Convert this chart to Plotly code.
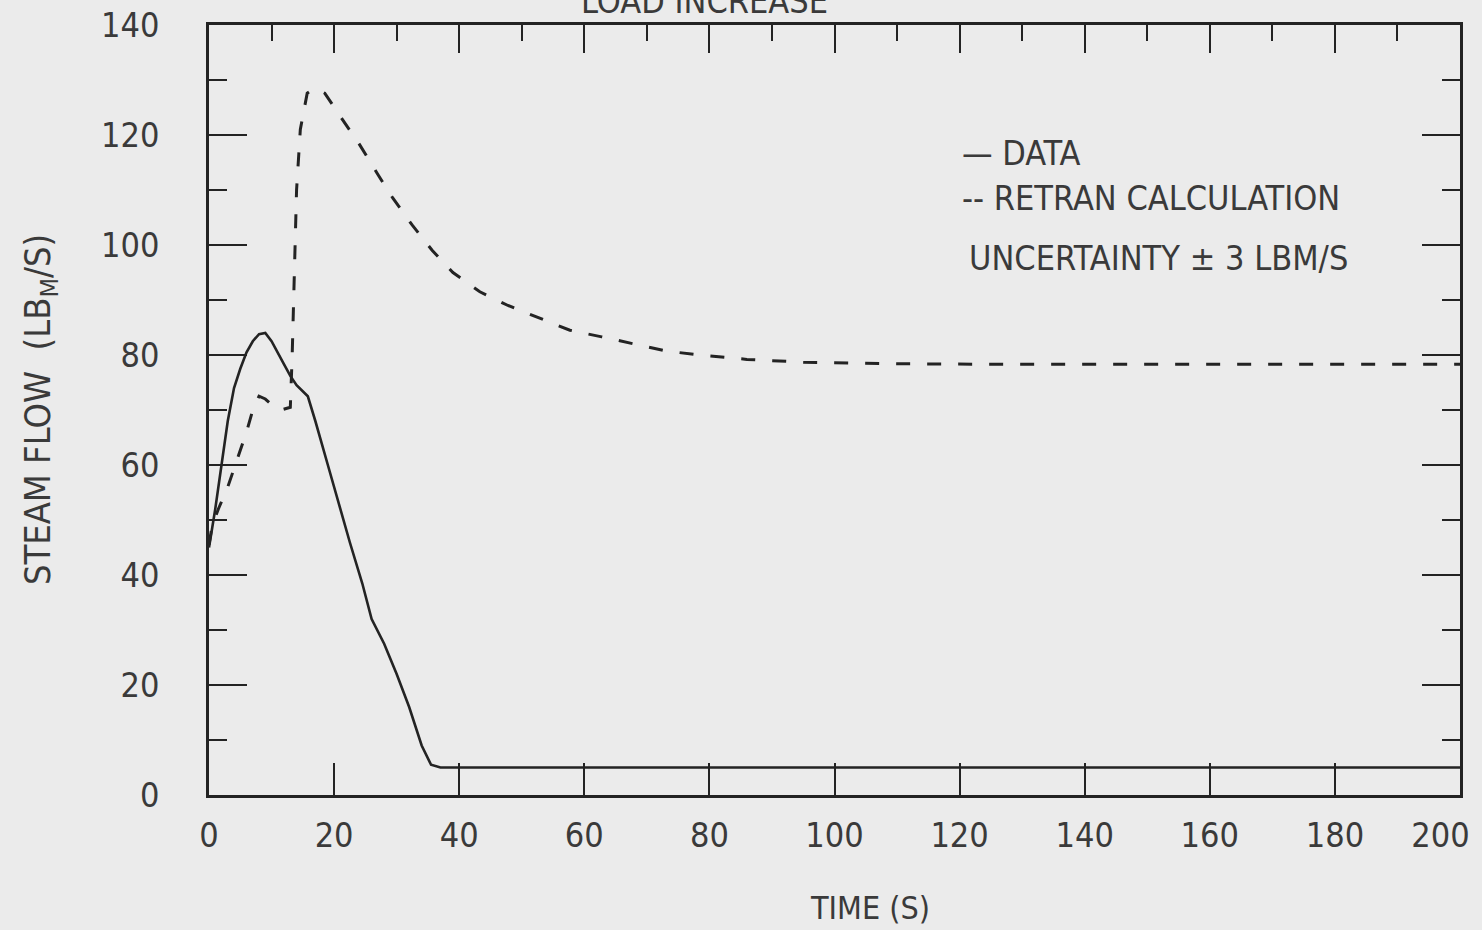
import plotly.graph_objects as go

# ---- data ----
data_t = [0, 1, 2, 3, 4, 5, 6, 7, 8, 9, 10, 11, 12, 13, 14, 15.8, 17, 19, 21, 22.5,
          24.5, 26, 28, 30, 32, 34, 35.5, 37, 60, 100, 150, 200]
data_v = [45, 52, 60, 68, 74, 77.5, 80.5, 82.5, 83.8, 84, 82.5, 80.5, 78.3, 76.2, 74.5,
          72.5, 68, 60, 52, 46, 38.5, 32, 27.5, 22, 16, 9, 5.5, 5, 5, 5, 5, 5]

retran_t = [0, 0.5, 1.5, 3, 4.5, 6, 7, 8, 9, 10, 11.5, 13, 13.3, 13.6, 14, 14.6, 15.7,
            16.9, 18.5, 21.4, 24.1, 26.9, 29.4, 32.5, 35.7, 39, 43.3, 47.8, 52.9, 57.7,
            62.8, 68.1, 73.2, 78.5, 86, 95, 110, 130, 160, 200]
retran_v = [45.5, 49, 52, 56, 61, 66, 70, 72.5, 72, 71, 70, 70.5, 80, 95, 110, 121, 127.6,
            128.5, 127.6, 122.7, 118.2, 113, 108.5, 103.6, 99, 95, 91.5, 89, 86.7, 84.5,
            83.3, 82, 80.7, 80, 79.2, 78.7, 78.4, 78.3, 78.3, 78.3]

x_ticks = [0, 20, 40, 60, 80, 100, 120, 140, 160, 180, 200]
x_ticktext = ["0", "20", "40", "60", "80", "100", "120", "140", "160", "180",
              "200\u2007\u2007"]
y_ticks = [0, 20, 40, 60, 80, 100, 120, 140]

title_text = "LOAD INCREASE"
x_title = "TIME (S)"
y_title = "STEAM FLOW  (LB<sub>M</sub>/S)"
legend_lines = ["— DATA", "-- RETRAN CALCULATION", "UNCERTAINTY ± 3 LBM/S"]

INK = "#232323"
TXT = "#3a3a3a"
BG = "#ebebeb"
FONT = "DejaVu Sans Condensed, Liberation Sans Narrow, sans-serif"

fig = go.Figure()
fig.add_trace(go.Scatter(x=data_t, y=data_v, mode="lines", name="DATA",
                         line=dict(color=INK, width=2.6), showlegend=False,
                         hoverinfo="skip"))
fig.add_trace(go.Scatter(x=retran_t, y=retran_v, mode="lines", name="RETRAN CALCULATION",
                         line=dict(color=INK, width=3, dash="14px,17px"),
                         showlegend=False, hoverinfo="skip"))
# invisible trace to bind the top (mirror) x axis
fig.add_trace(go.Scatter(x=data_t, y=data_v, xaxis="x2", mode="lines", opacity=0,
                         line=dict(width=0), showlegend=False, hoverinfo="skip"))

tick_font = dict(family=FONT, size=34, color=TXT)

fig.update_layout(
    width=1482, height=930,
    margin=dict(l=209, r=22, t=25, b=135),
    paper_bgcolor=BG, plot_bgcolor=BG,
    xaxis=dict(range=[0, 200], tickmode="array", tickvals=x_ticks,
               ticktext=x_ticktext, automargin=False,
               ticks="inside", ticklen=32, tickwidth=2, tickcolor=INK,
               showline=True, linewidth=2.5, linecolor=INK, mirror=False,
               showgrid=False, zeroline=False, tickfont=tick_font,
               ticklabelstandoff=8, ticklabeloverflow="allow"),
    xaxis2=dict(range=[0, 200], overlaying="x", side="top", anchor="y",
                tickmode="linear", tick0=0, dtick=20, automargin=False,
                ticks="inside", ticklen=28, tickwidth=2, tickcolor=INK,
                minor=dict(ticks="inside", ticklen=16, dtick=10, tick0=0,
                           tickwidth=2, tickcolor=INK),
                showline=True, linewidth=2.5, linecolor=INK,
                showticklabels=False, showgrid=False, zeroline=False),
    yaxis=dict(range=[0, 140], tickmode="array", tickvals=y_ticks,
               ticktext=[str(v) for v in y_ticks], automargin=False,
               ticks="inside", ticklen=38, tickwidth=2, tickcolor=INK,
               minor=dict(ticks="inside", ticklen=18, dtick=10, tick0=0,
                          tickwidth=2, tickcolor=INK),
               showline=True, linewidth=2.5, linecolor=INK, mirror="ticks",
               showgrid=False, zeroline=False, tickfont=tick_font,
               ticklabelstandoff=40, ticklabeloverflow="allow"),
)

annotations = [
    dict(text=title_text, xref="paper", yref="paper", x=0.396, y=1.0,
         yanchor="bottom", xanchor="center", yshift=2, showarrow=False,
         font=dict(family=FONT, size=34, color=TXT)),
    dict(text=x_title, xref="paper", yref="paper", x=0.528, y=-0.147,
         xanchor="center", yanchor="middle", showarrow=False,
         font=dict(family=FONT, size=32, color=TXT)),
    dict(text=y_title, xref="paper", yref="paper", x=-0.135, y=0.5,
         xanchor="center", yanchor="middle", textangle=-90, showarrow=False,
         font=dict(family=FONT, size=36, color=TXT)),
]
leg_y = [116.7, 108.5, 97.6]
leg_x = [120, 120, 121.2]
for txt, yy, xx in zip(legend_lines, leg_y, leg_x):
    annotations.append(dict(text=txt, x=xx, y=yy, xref="x", yref="y",
                            xanchor="left", yanchor="middle", showarrow=False,
                            font=dict(family=FONT, size=34, color=TXT)))
fig.update_layout(annotations=annotations)

fig.write_html("out.html")
